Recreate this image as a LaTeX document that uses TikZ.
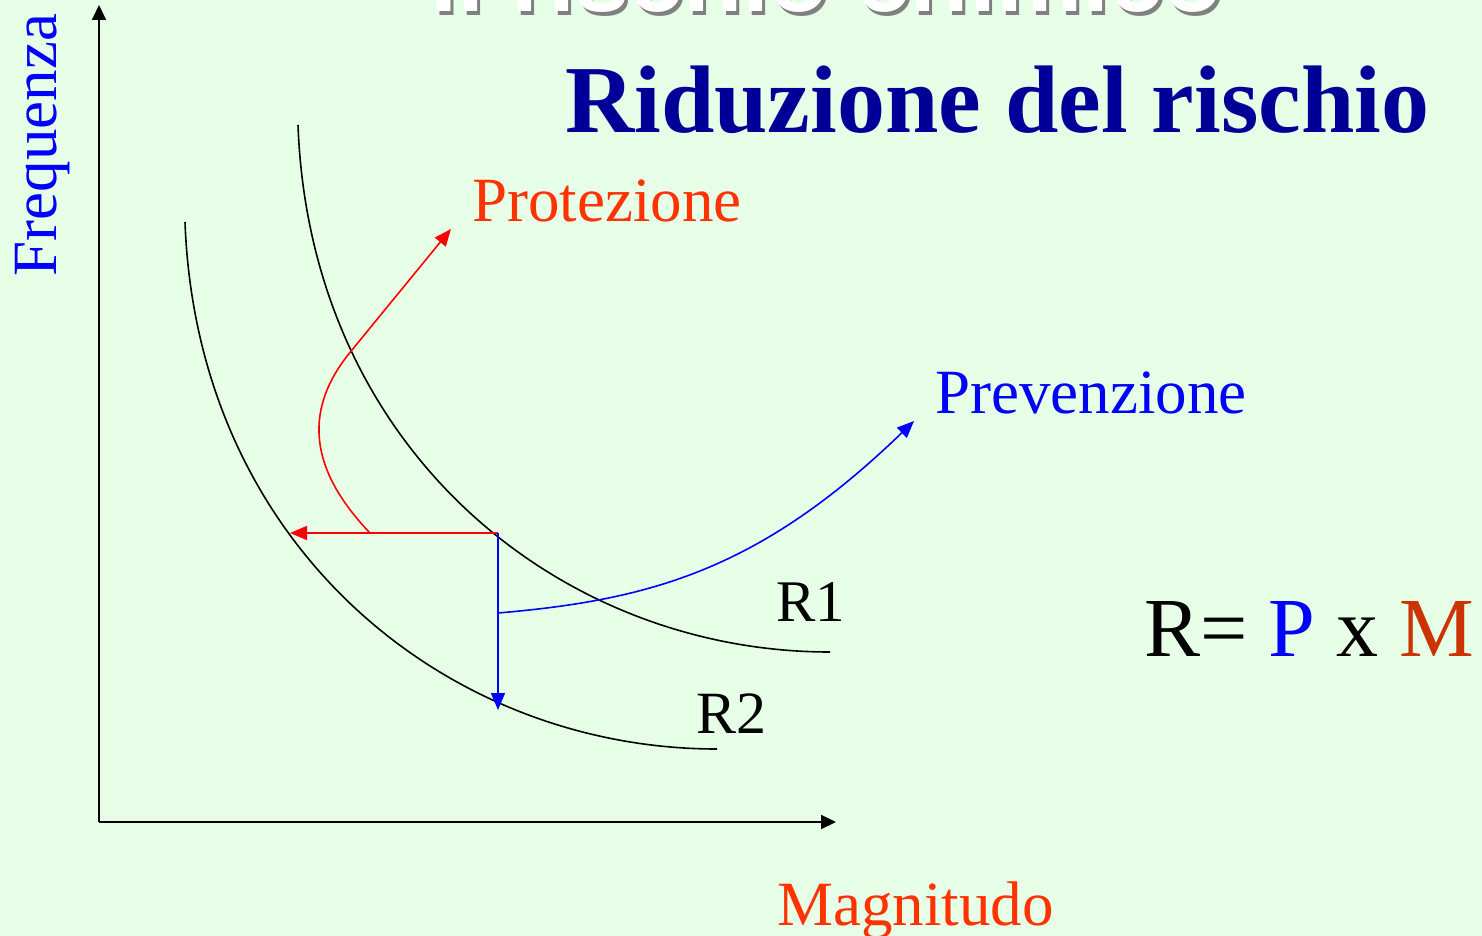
\documentclass[tikz,border=0pt]{standalone}
\usepackage{fontspec}
\setmainfont{Liberation Serif}
\newfontfamily\titlesans{Liberation Sans}
\usetikzlibrary{arrows.meta}
\definecolor{bg}{RGB}{230,255,230}
\definecolor{navy}{RGB}{0,0,153}
\definecolor{redor}{RGB}{255,51,0}
\definecolor{darkor}{RGB}{204,51,0}
\definecolor{shadowgray}{RGB}{128,128,128}
\tikzset{
  axisline/.style={line width=2pt,-{Triangle[length=15pt,width=14pt]}},
  riskcurve/.style={line width=1.6pt,black},
  redarrow/.style={line width=1.6pt,red,-{Triangle[length=17pt,width=14pt]}},
  bluearrow/.style={line width=1.6pt,blue,-{Triangle[length=17pt,width=14pt]}},
  lbl/.style={inner sep=0pt,anchor=base west},
  sz/.style={font=\fontsize{#1}{#1}\selectfont}
}
\begin{document}
\begin{tikzpicture}[x=1pt,y=-1pt]
\useasboundingbox (0,0) rectangle (1482,936);
\fill[bg] (0,0) rectangle (1482,936);
% cut-off title with shadow
\node[lbl,sz=97,text=shadowgray] (tshadow) at (433,16) {\titlesans\bfseries Il rischio chimico};
\node[lbl,sz=97,text=white] (title) at (430,12) {\titlesans\bfseries Il rischio chimico};
% axes
\coordinate (O) at (99,822);
\coordinate (ytop) at (99,5);
\coordinate (xend) at (836,822);
\draw[axisline] (O) -- (ytop);
\draw[axisline] (O) -- (xend);
% risk curves
\coordinate (r1s) at (298,125);
\coordinate (r1e) at (830,652);
\coordinate (r2s) at (185,222);
\coordinate (r2e) at (717,749);
\draw[riskcurve] (r1s) .. controls (310,450) and (560,652) .. (r1e);
\draw[riskcurve] (r2s) .. controls (197,547) and (447,749) .. (r2e);
% reduction arrows
\coordinate (corner) at (498,533);
\coordinate (redtip) at (290,533);
\coordinate (bluetip) at (498,710);
\coordinate (redstart) at (370,533);
\coordinate (redmid) at (352,350);
\coordinate (redend) at (451,229);
\coordinate (bluestart) at (498,613);
\coordinate (blueend) at (914,421);
\draw[redarrow] (corner) -- (redtip);
\draw[bluearrow] (corner) -- (bluetip);
\draw[redarrow] (redstart) .. controls (300,460) and (310,400) .. (redmid) -- (redend);
\draw[bluearrow] (bluestart) .. controls (650,600) and (760,570) .. (blueend);
% labels
\node[lbl,sz=96,text=navy] (heading) at (565,133) {\bfseries Riduzione del rischio};
\node[lbl,sz=63,text=redor] (prot) at (472,221) {Protezione};
\node[lbl,sz=63,text=blue] (prev) at (935,413) {Prevenzione};
\node[lbl,sz=63,text=redor] (magn) at (777,925) {Magnitudo};
\node[inner sep=0pt,anchor=base,rotate=90,sz=63,text=blue] (freq) at (56,145) {Frequenza};
\node[lbl,sz=59] (r1) at (776,621) {R1};
\node[lbl,sz=60] (r2) at (696,733) {R2};
\node[lbl,sz=84] (formula) at (1144,656) {R= \textcolor{blue}{P} x \textcolor{darkor}{M}};
\end{tikzpicture}
\end{document}
